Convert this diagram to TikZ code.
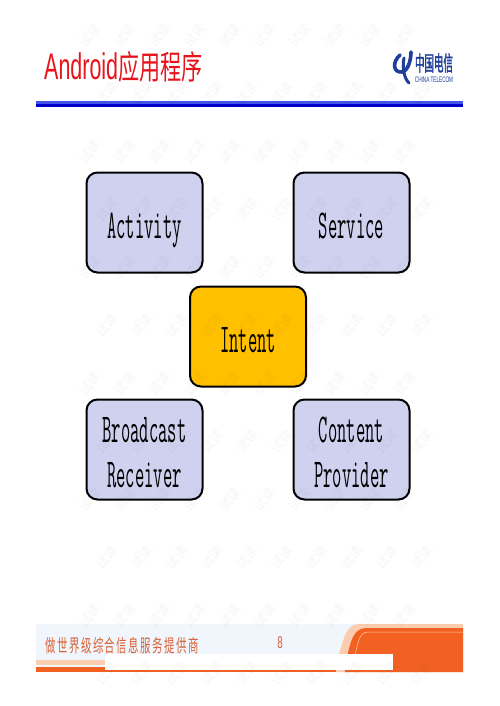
\documentclass[tikz,border=0pt]{standalone}
\usepackage{fontspec}
\newfontfamily\boxfont[FakeStretch=0.44]{Latin Modern Mono}
\newfontfamily\titlefont[FakeStretch=0.58]{Liberation Sans}
\newfontfamily\titlecjk[FakeStretch=0.64]{Noto Sans CJK SC}
\newfontfamily\logocjk[FakeStretch=0.45,FakeBold=1.5]{Noto Sans CJK SC}
\newfontfamily\footcjk[FakeStretch=0.58,LetterSpace=8]{Noto Sans CJK SC}
\newfontfamily\markcjk{Noto Sans CJK SC}
\definecolor{boxblue}{HTML}{CFD1EF}
\definecolor{intentgold}{HTML}{FFC000}
\definecolor{titlered}{HTML}{E8141C}
\definecolor{ruletop}{HTML}{4455E8}
\definecolor{rulelow}{HTML}{0000CC}
\definecolor{logoblue}{HTML}{1F3F9A}
\definecolor{footblue}{HTML}{F0F6FB}
\definecolor{footorange}{HTML}{F26122}
\definecolor{footpeach}{HTML}{FBCDB0}
\definecolor{foottext}{HTML}{D8633A}
\tikzset{
  appbox/.style={draw=black,line width=2pt,fill=boxblue,rounded corners=11pt,
    minimum width=116pt,minimum height=100pt,align=center,inner sep=0pt,
    text height=31pt,text depth=0pt,font=\fontsize{41}{45}\boxfont},
  twolines/.style={text height=75pt},
  wmark/.style={text=black,text opacity=0.04,rotate=50,inner sep=0pt,
    font=\fontsize{13}{13}\markcjk}
}

\begin{document}
\begin{tikzpicture}[x=1pt,y=-1pt]
  \useasboundingbox (0,0) rectangle (499,706);
  \fill[white] (0,0) rectangle (499,706);
  %% title and rule
  \node[anchor=base west,inner sep=0pt,text=titlered] (title) at (44,80) {%
    {\fontsize{37}{37}\titlefont Android}{\fontsize{33}{33}\titlecjk 应用程序}};
  \fill[ruletop] (36,101) rectangle (463,104);
  \fill[rulelow] (36,104) rectangle (463,107);
  %% logo
  \draw[logoblue,line width=3.6pt,line cap=round]
    (400,55) .. controls (392,62) and (393,73) .. (402,72)
    .. controls (408,71) and (411,60) .. (411,52);
  \draw[logoblue,line width=3pt,line cap=round]
    (404,58) .. controls (402,68) and (404,78) .. (409,83);
  \node[text=logoblue,inner sep=0pt,font=\fontsize{21}{21}\logocjk] (logocn) at (434,63) {中国电信};
  \node[text=logoblue,inner sep=0pt,font=\fontsize{8}{8}\titlefont] (logoen) at (434,80) {CHINA TELECOM};
  %% boxes
  \node[appbox] (activity) at (144.5,222.5) {Activity};
  \node[appbox] (service) at (351.5,222.5) {Service};
  \node[appbox,fill=intentgold] (intent) at (248,336.5) {Intent};
  \node[appbox,twolines] (broadcast) at (144.5,449.5) {Broadcast\\Receiver};
  \node[appbox,twolines] (content) at (351.5,449.5) {Content\\Provider};
  %% footer
  \fill[footblue] (36,624) rectangle (463,672);
  \fill[footpeach] (36,660) rectangle (120,665);
  \fill[footorange] (36,667) rectangle (463,672);
  \fill[footpeach] (336,665) .. controls (342,645) and (345,624) .. (358,624)
    -- (463,624) -- (463,672) -- (336,672) -- cycle;
  \fill[footorange] (345,672) -- (346,662) .. controls (350,645) and (352,628) .. (366,628)
    -- (463,628) -- (463,672) -- cycle;
  \draw[footpeach,line width=0.5pt] (354,660) .. controls (358,645) and (358,632) .. (368,632) -- (463,632);
  \fill[white] (105,654) rectangle (393,670);
  \node[text=foottext,inner sep=0pt,font=\fontsize{18}{18}\footcjk] (slogan) at (122,646) {做世界级综合信息服务提供商};
  \node[text=foottext,inner sep=0pt,font=\fontsize{17}{17}\titlefont] (pageno) at (280,643) {8};
  %% watermark
  \foreach \r in {0,...,11}{
    \pgfmathsetmacro{\ypos}{35+58*\r}
    \pgfmathsetmacro{\xoff}{mod(\r,2)*17}
    \foreach \c in {0,...,9}{
      \node[wmark] (wm\r-\c) at ({90+\xoff+35*\c},\ypos) {试读};
    }
  }
\end{tikzpicture}
\end{document}
